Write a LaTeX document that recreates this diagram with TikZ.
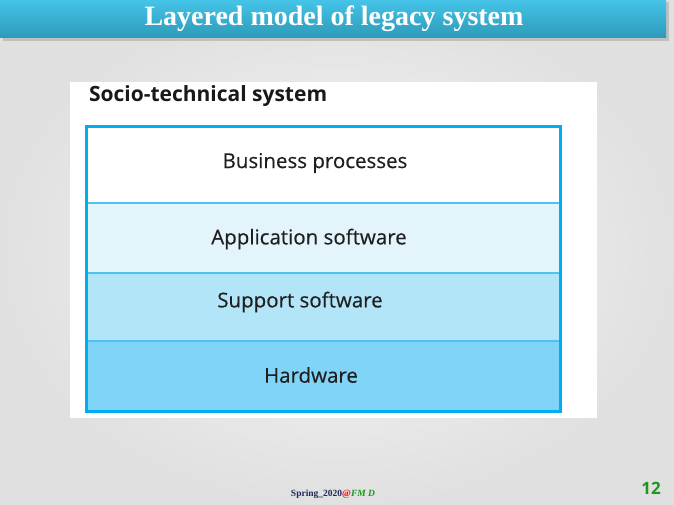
\documentclass[tikz,border=0pt]{standalone}
\usepackage{fontspec}
\setmainfont{Liberation Serif}
\setsansfont{Open Sans}
\newfontfamily\layerfont{Open Sans}[FakeBold=0.35]
\usetikzlibrary{positioning}

\definecolor{bartop}{HTML}{45C4E8}
\definecolor{barbot}{HTML}{2C9AB9}
\definecolor{frameblue}{HTML}{00AEEF}
\definecolor{sepblue}{HTML}{4CC3F2}
\definecolor{busfill}{HTML}{FFFFFF}
\definecolor{appfill}{HTML}{E3F4FB}
\definecolor{supfill}{HTML}{B3E5F8}
\definecolor{hwfill}{HTML}{7FD4F7}
\definecolor{navytext}{HTML}{1F2A5A}
\definecolor{greentext}{HTML}{1A9A1A}

\begin{document}
\begin{tikzpicture}[x=1pt, y=-1pt,
        layer/.style={draw=sepblue, line width=1.2pt, minimum width=474pt,
            anchor=north},
        layertext/.style={font=\layerfont\fontsize{20.5}{24}\selectfont, text=black!88},
        every node/.style={inner sep=0pt, outer sep=0pt}]
    % slide background
    \shade[inner color=white!97!black, outer color=black!12] (0,0) rectangle (674,505);
    \useasboundingbox (0,0) rectangle (674,505);
    % title bar with shadow
    \fill[black!25] (3,2) rectangle (669,41);
    \shade[top color=bartop, bottom color=barbot] (0,0) rectangle (666,38);
    \node[font=\bfseries\fontsize{28}{31}\selectfont, text=white] (title) at (334,19)
        {Layered model of legacy system};
    % figure
    \fill[white] (70,82) rectangle (597,418);
    \node[anchor=west, font=\sffamily\bfseries\fontsize{21}{24}\selectfont, text=black!90]
        (heading) at (89,96) {Socio-technical system};
    \node[layer, fill=busfill, minimum height=76pt] (bus) at (323,127) {};
    \node[layer, fill=appfill, minimum height=70pt, below=0pt of bus] (app) {};
    \node[layer, fill=supfill, minimum height=68pt, below=0pt of app] (sup) {};
    \node[layer, fill=hwfill, minimum height=70pt, below=0pt of sup] (hw) {};
    \draw[frameblue, line width=3pt] (bus.north west) rectangle (hw.south east);
    \node[layertext] (bustext) at ([xshift=-8pt, yshift=2pt]bus.center) {Business processes};
    \node[layertext] (apptext) at ([xshift=-14pt, yshift=-1pt]app.center) {Application software};
    \node[layertext] (suptext) at ([xshift=-23pt, yshift=5pt]sup.center) {Support software};
    \node[layertext] (hwtext) at ([xshift=-12pt, yshift=1pt]hw.center) {Hardware};
    % footer
    \node[font=\fontsize{9.5}{11}\selectfont\bfseries] (footer) at (333,494)
        {\textcolor{navytext}{Spring\_2020}\textcolor{red}{@}\textcolor{greentext}{\itshape FM D}};
    \node[font=\sffamily\bfseries\fontsize{17}{19}\selectfont, text=greentext] (pageno) at (651,488) {12};
\end{tikzpicture}
\end{document}
